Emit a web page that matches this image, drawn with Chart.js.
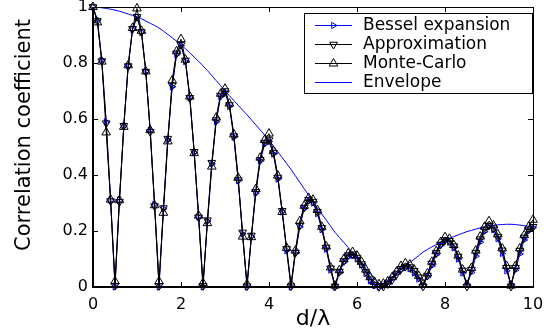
<!DOCTYPE html>
<html lang="en">
<head>
  <meta charset="UTF-8">
  <title>Correlation coefficient vs d/lambda</title>
  <style>
    body {
      margin: 0;
      background-color: #fff;
    }
    canvas {
      display: block;
    }
  </style>
  <script src="https://cdn.jsdelivr.net/npm/chart.js"></script>
</head>
<body>
<canvas id="corrChart" width="551" height="332"></canvas>

<script>
  // distance d/lambda (step 0.1)
  const dist = [0,0.1,0.2,0.3,0.4,0.5,0.6,0.7,0.8,0.9,
    1,1.1,1.2,1.3,1.4,1.5,1.6,1.7,1.8,1.9,
    2,2.1,2.2,2.3,2.4,2.5,2.6,2.7,2.8,2.9,
    3,3.1,3.2,3.3,3.4,3.5,3.6,3.7,3.8,3.9,
    4,4.1,4.2,4.3,4.4,4.5,4.6,4.7,4.8,4.9,
    5,5.1,5.2,5.3,5.4,5.5,5.6,5.7,5.8,5.9,
    6,6.1,6.2,6.3,6.4,6.5,6.6,6.7,6.8,6.9,
    7,7.1,7.2,7.3,7.4,7.5,7.6,7.7,7.8,7.9,
    8,8.1,8.2,8.3,8.4,8.5,8.6,8.7,8.8,8.9,
    9,9.1,9.2,9.3,9.4,9.5,9.6,9.7,9.8,9.9,
    10];

  const bessel = [1.000,0.955,0.810,0.590,0.310,0.000,0.310,0.575,0.790,0.920,
    0.965,0.910,0.770,0.560,0.295,0.000,0.280,0.525,0.715,0.830,
    0.862,0.805,0.675,0.480,0.250,0.000,0.235,0.440,0.590,0.680,
    0.695,0.645,0.535,0.380,0.190,0.000,0.180,0.335,0.450,0.510,
    0.520,0.475,0.385,0.268,0.130,0.000,0.120,0.215,0.280,0.305,
    0.300,0.262,0.205,0.135,0.060,0.000,0.050,0.088,0.108,0.112,
    0.100,0.078,0.048,0.022,0.005,0.000,0.004,0.015,0.030,0.048,
    0.062,0.068,0.065,0.050,0.028,0.005,0.036,0.075,0.115,0.148,
    0.165,0.160,0.140,0.100,0.050,0.008,0.052,0.110,0.160,0.198,
    0.215,0.205,0.172,0.120,0.058,0.010,0.060,0.118,0.168,0.200,
    0.212];

  const approx = [1.000,0.950,0.807,0.585,0.307,0.005,0.304,0.576,0.789,0.922,
    0.965,0.911,0.769,0.554,0.289,0.004,0.282,0.530,0.720,0.835,
    0.865,0.809,0.676,0.483,0.249,0.004,0.239,0.444,0.596,0.684,
    0.700,0.650,0.539,0.382,0.195,0.003,0.184,0.340,0.454,0.516,
    0.525,0.479,0.391,0.272,0.136,0.003,0.123,0.220,0.284,0.312,
    0.305,0.269,0.211,0.141,0.067,0.002,0.055,0.093,0.114,0.117,
    0.105,0.082,0.054,0.028,0.009,0.001,0.002,0.011,0.026,0.046,
    0.065,0.073,0.071,0.058,0.035,0.002,0.041,0.084,0.122,0.152,
    0.168,0.165,0.146,0.109,0.059,0.002,0.062,0.122,0.171,0.205,
    0.220,0.210,0.180,0.131,0.069,0.002,0.069,0.130,0.177,0.206,
    0.215];

  const monteCarlo = [1.000,0.945,0.805,0.552,0.312,0.020,0.310,0.572,0.792,0.925,
    0.995,0.915,0.770,0.560,0.292,0.020,0.265,0.520,0.738,0.842,
    0.885,0.812,0.680,0.478,0.255,0.015,0.228,0.430,0.605,0.690,
    0.708,0.655,0.545,0.390,0.180,0.010,0.178,0.350,0.462,0.525,
    0.548,0.485,0.398,0.268,0.140,0.010,0.130,0.235,0.290,0.318,
    0.312,0.275,0.215,0.145,0.070,0.005,0.060,0.100,0.120,0.125,
    0.112,0.090,0.062,0.035,0.018,0.010,0.012,0.020,0.035,0.055,
    0.075,0.085,0.080,0.062,0.040,0.010,0.048,0.090,0.128,0.160,
    0.178,0.172,0.150,0.112,0.062,0.008,0.068,0.130,0.180,0.215,
    0.235,0.220,0.188,0.138,0.075,0.005,0.075,0.138,0.185,0.215,
    0.240];

  const envelope = [1.000,0.999,0.997,0.995,0.992,0.989,0.985,0.980,0.975,0.970,
    0.965,0.958,0.950,0.942,0.934,0.925,0.914,0.902,0.890,0.878,
    0.865,0.851,0.836,0.821,0.806,0.790,0.773,0.755,0.737,0.719,
    0.700,0.683,0.666,0.649,0.632,0.615,0.597,0.579,0.561,0.543,
    0.525,0.504,0.483,0.462,0.441,0.420,0.397,0.374,0.351,0.328,
    0.305,0.283,0.261,0.239,0.217,0.195,0.177,0.159,0.141,0.123,
    0.105,0.086,0.067,0.048,0.029,0.012,0.005,0.018,0.032,0.048,
    0.065,0.077,0.088,0.099,0.112,0.125,0.134,0.143,0.151,0.160,
    0.168,0.174,0.180,0.186,0.192,0.198,0.202,0.207,0.211,0.216,
    0.220,0.221,0.222,0.223,0.224,0.224,0.223,0.221,0.219,0.217,
    0.215];

  const xTicks = [0, 2, 4, 6, 8, 10];
  const yTicks = [0, 0.2, 0.4, 0.6, 0.8, 1];

  const FONT = 'DejaVu Sans';
  const BLUE = '#0000ff';

  const toPoints = arr => dist.map((d, i) => ({ x: d, y: arr[i] }));

  // box, inward ticks, legend and y title (matlab look)
  const matlabFrame = {
    id: 'matlabFrame',
    afterDraw(chart) {
      const ctx = chart.ctx;
      const a = chart.chartArea;
      const xs = chart.scales.x;
      const ys = chart.scales.y;
      ctx.save();
      ctx.strokeStyle = '#000';
      ctx.lineWidth = 1;
      ctx.strokeRect(a.left + 0.5, a.top + 0.5, a.right - a.left, a.bottom - a.top);
      ctx.lineWidth = 2;
      ctx.beginPath();
      ctx.moveTo(a.left, a.top);
      ctx.lineTo(a.left, a.bottom);
      ctx.lineTo(a.right + 1, a.bottom);
      ctx.stroke();

      ctx.lineWidth = 1;
      ctx.beginPath();
      xTicks.forEach(v => {
        const px = Math.round(xs.getPixelForValue(v)) + 0.5;
        ctx.moveTo(px, a.bottom); ctx.lineTo(px, a.bottom - 5);
        ctx.moveTo(px, a.top); ctx.lineTo(px, a.top + 5);
      });
      yTicks.forEach(v => {
        const py = Math.round(ys.getPixelForValue(v)) + 0.5;
        ctx.moveTo(a.left, py); ctx.lineTo(a.left + 5, py);
        ctx.moveTo(a.right, py); ctx.lineTo(a.right - 5, py);
      });
      ctx.stroke();

      // y axis title
      ctx.fillStyle = '#000';
      ctx.font = '21px "' + FONT + '"';
      ctx.textAlign = 'center';
      ctx.textBaseline = 'middle';
      ctx.translate(25, 135);
      ctx.rotate(-Math.PI / 2);
      ctx.fillText('Correlation coefficient', 0, 0);
      ctx.restore();

      // legend
      ctx.save();
      const lx = 304, ly = 13, lw = 228, lh = 80;
      ctx.fillStyle = '#fff';
      ctx.fillRect(lx, ly, lw, lh);
      ctx.strokeStyle = '#000';
      ctx.lineWidth = 1;
      ctx.strokeRect(lx + 0.5, ly + 0.5, lw, lh);
      const rows = [25, 44, 63, 82];
      ctx.font = '17px "' + FONT + '"';
      ctx.textAlign = 'left';
      ctx.textBaseline = 'middle';
      chart.data.datasets.forEach((ds, i) => {
        const y = rows[i];
        ctx.strokeStyle = ds.borderColor;
        ctx.lineWidth = 1;
        ctx.beginPath();
        ctx.moveTo(315, y + 0.5);
        ctx.lineTo(352, y + 0.5);
        ctx.stroke();
        if (ds.pointRadius > 0) {
          ctx.strokeStyle = ds.pointBorderColor;
          ctx.fillStyle = 'rgba(0,0,0,0)';
          Chart.helpers.drawPoint(ctx, {
            pointStyle: ds.pointStyle,
            rotation: ds.pointRotation,
            radius: ds.pointRadius,
            borderWidth: 1
          }, 333.5, y + 0.5);
        }
        ctx.fillStyle = '#000';
        ctx.fillText(ds.label, 363, y + 1);
      });
      ctx.restore();
    }
  };

  const config = {
    type: 'line',
    data: {
      datasets: [
        {
          label: 'Bessel expansion',
          data: toPoints(bessel),
          borderColor: BLUE,
          borderWidth: 1,
          pointStyle: 'triangle',
          pointRotation: 90,
          pointRadius: 3.6,
          pointBorderColor: BLUE,
          pointBackgroundColor: 'rgba(0,0,0,0)',
          pointBorderWidth: 1,
          order: 3,
          clip: false
        },
        {
          label: 'Approximation',
          data: toPoints(approx),
          borderColor: '#000',
          borderWidth: 1,
          pointStyle: 'triangle',
          pointRotation: 180,
          pointRadius: 4.5,
          pointBorderColor: '#000',
          pointBackgroundColor: 'rgba(0,0,0,0)',
          pointBorderWidth: 1,
          order: 2,
          clip: false
        },
        {
          label: 'Monte-Carlo',
          data: toPoints(monteCarlo),
          borderColor: '#000',
          borderWidth: 1,
          pointStyle: 'triangle',
          pointRotation: 0,
          pointRadius: 5,
          pointBorderColor: '#000',
          pointBackgroundColor: 'rgba(0,0,0,0)',
          pointBorderWidth: 1,
          order: 1,
          clip: false
        },
        {
          label: 'Envelope',
          data: toPoints(envelope),
          borderColor: BLUE,
          borderWidth: 1,
          pointRadius: 0,
          order: 4
        }
      ]
    },
    options: {
      responsive: false,
      animation: false,
      layout: { padding: { left: 0, right: 18, top: 7, bottom: 0 } },
      plugins: {
        legend: { display: false },
        tooltip: { enabled: false }
      },
      scales: {
        x: {
          type: 'linear',
          min: 0,
          max: 10,
          afterFit(s) { s.height = 45; s.paddingLeft = 0; s.paddingRight = 0; },
          afterBuildTicks(s) { s.ticks = xTicks.map(v => ({ value: v })); },
          grid: { display: false, drawTicks: false },
          border: { display: false },
          ticks: {
            color: '#000',
            padding: 8,
            maxRotation: 0,
            font: { family: FONT, size: 16 },
            callback: v => String(v)
          },
          title: {
            display: true,
            text: 'd/λ',
            color: '#000',
            padding: { top: 0, bottom: 0 },
            font: { family: FONT, size: 22 }
          }
        },
        y: {
          type: 'linear',
          min: 0,
          max: 1,
          afterFit(s) { s.width = 93; s.paddingTop = 0; s.paddingBottom = 0; },
          afterBuildTicks(s) { s.ticks = yTicks.map(v => ({ value: v })); },
          grid: { display: false, drawTicks: false },
          border: { display: false },
          ticks: {
            color: '#000',
            padding: 5,
            font: { family: FONT, size: 16 },
            callback: v => String(v)
          }
        }
      }
    },
    plugins: [matlabFrame]
  };

  new Chart(document.getElementById('corrChart').getContext('2d'), config);
</script>
</body>
</html>
